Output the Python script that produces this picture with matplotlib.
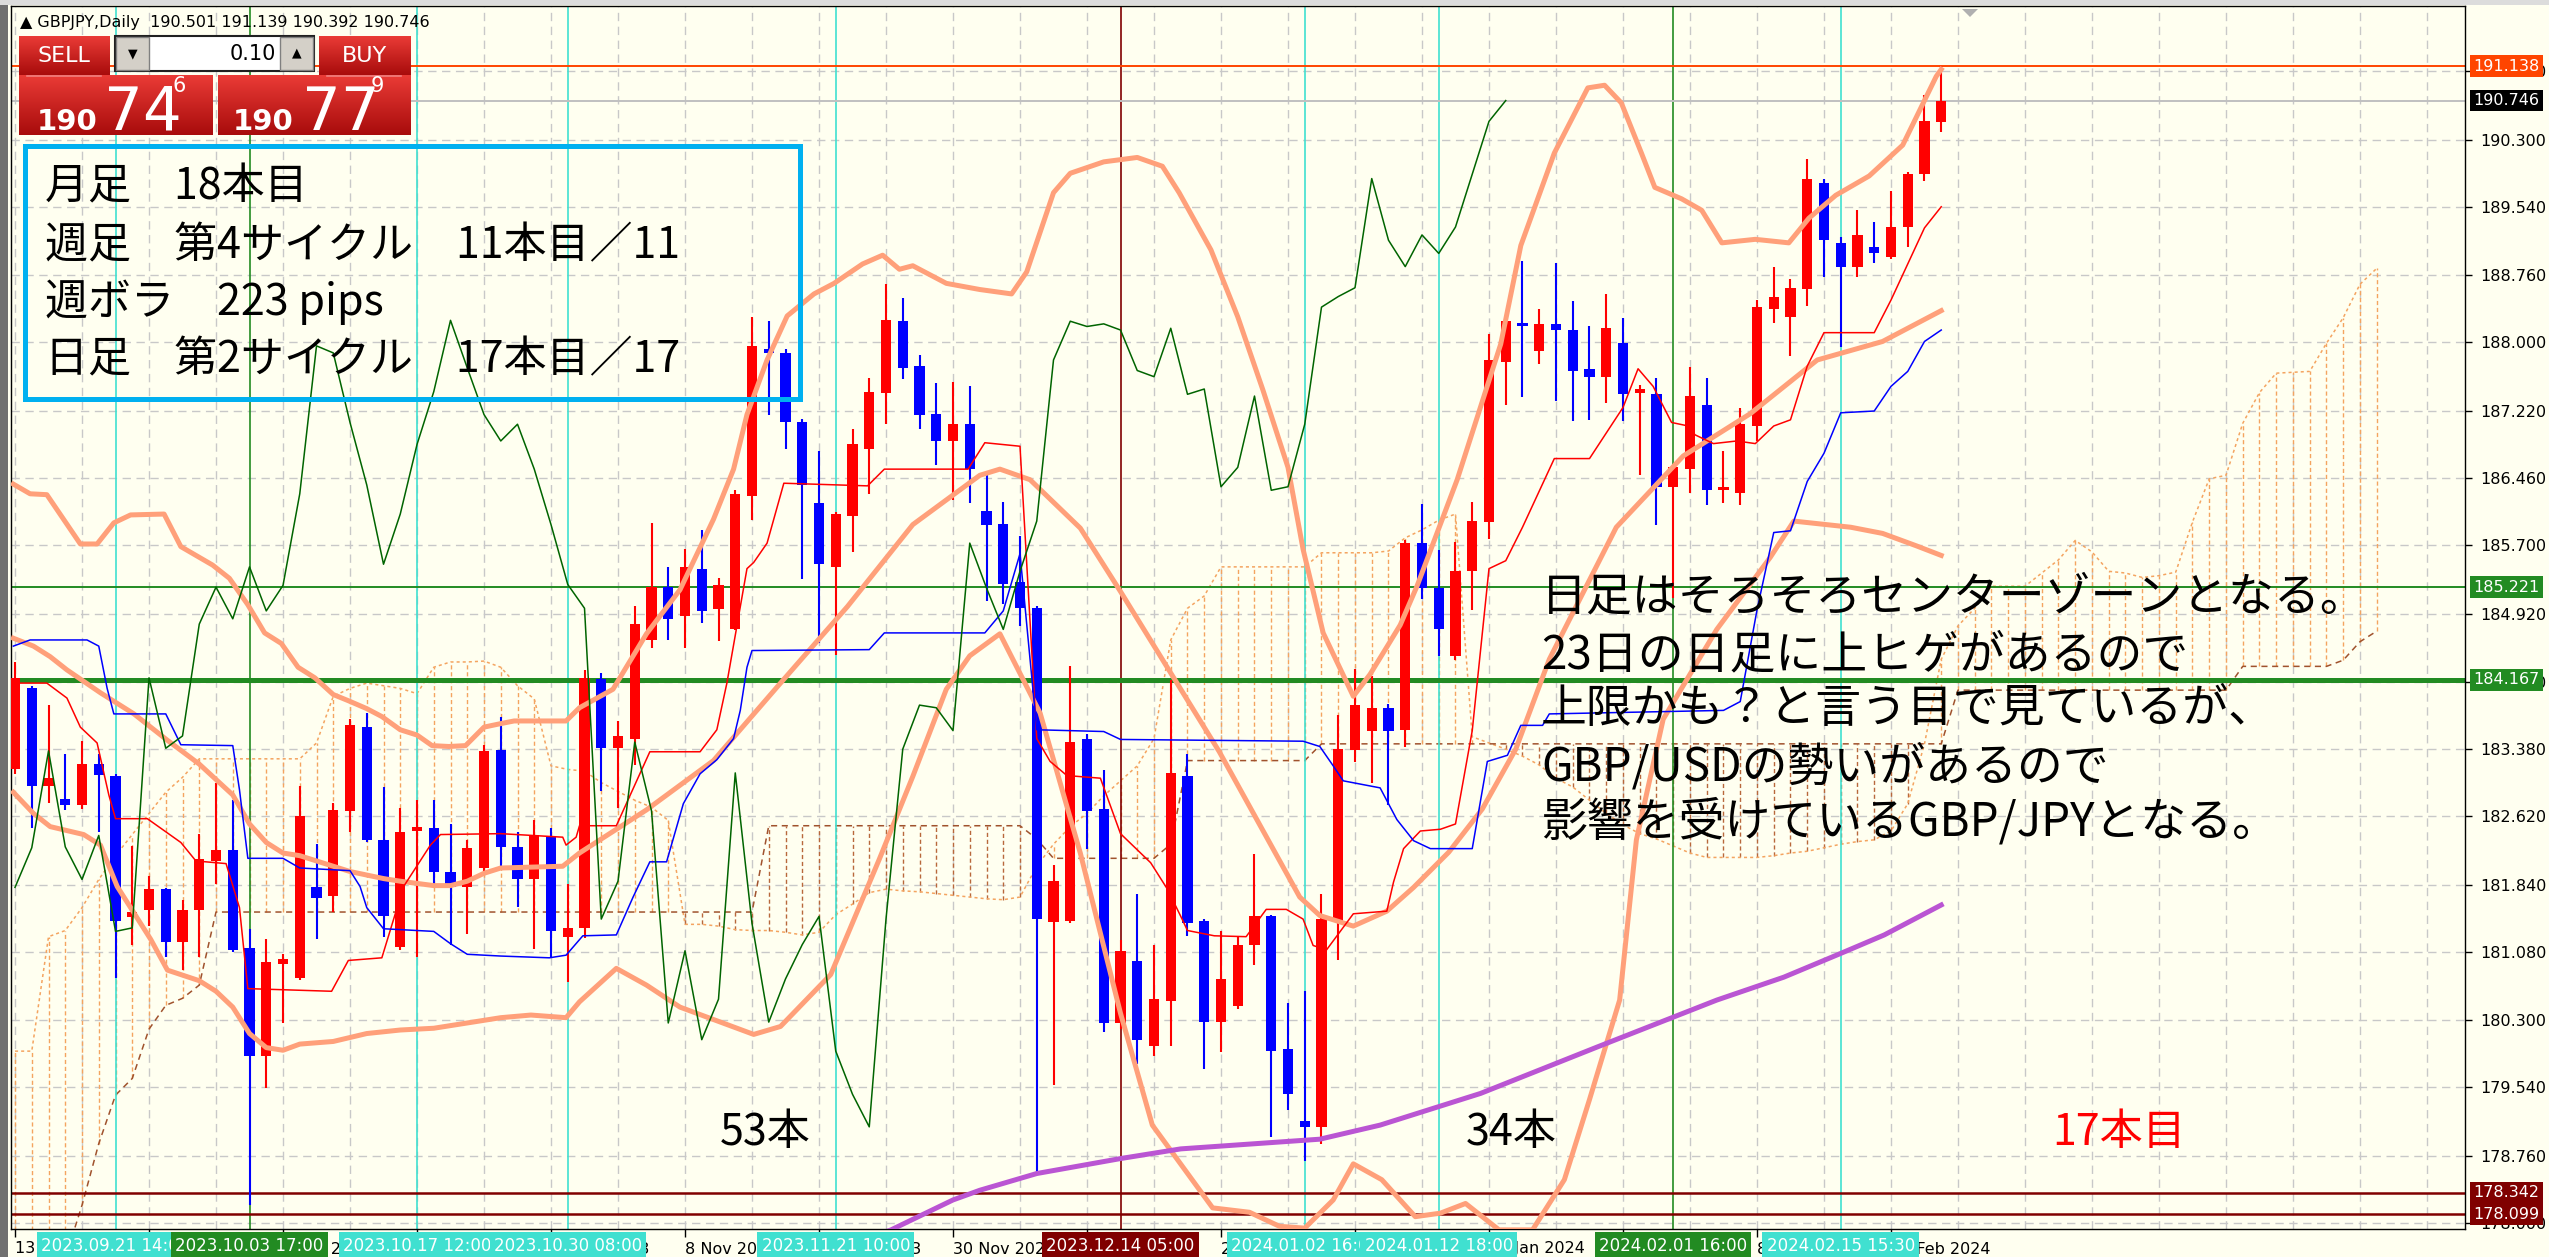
import numpy as np
import matplotlib.pyplot as plt
import matplotlib.transforms as mtrans
from matplotlib.colors import LinearSegmentedColormap
from matplotlib.patches import Rectangle, Polygon

plt.rcParams['font.family'] = ['Noto Sans CJK JP', 'DejaVu Sans']

W, H = 2549, 1257
BG = '#FFFFF0'
MT = ['DejaVu Sans']
NARROW = ['Liberation Sans Narrow', 'DejaVu Sans']
JP = ['Noto Sans CJK JP', 'DejaVu Sans']

# GBPJPY daily candles, bar 0 = 13 Sep 2023 ... bar 115 = 23 Feb 2024
opens = [183.15, 184.07, 182.96, 182.81, 182.74, 183.21, 183.08, 181.47, 181.55, 181.79,
         181.19, 181.55, 182.11, 182.23, 181.12, 179.89, 180.94, 180.78, 181.81, 181.71,
         182.68, 183.63, 182.35, 181.13, 182.45, 182.48, 181.99, 181.81, 182.03, 183.37,
         182.27, 181.90, 182.38, 181.25, 181.35, 184.18, 183.39, 183.50, 184.62, 185.22,
         184.89, 185.43, 184.97, 184.75, 186.26, 187.93, 187.88, 187.09, 186.18, 185.45,
         186.03, 186.79, 187.43, 188.24, 187.73, 187.19, 186.88, 187.07, 186.09, 185.94,
         185.28, 184.98, 181.42, 181.43, 183.49, 182.70, 180.27, 180.97, 180.01, 180.52,
         183.08, 181.43, 180.28, 180.46, 181.15, 181.48, 179.97, 179.16, 179.09, 181.42,
         183.37, 183.59, 183.85, 183.60, 185.72, 185.21, 184.44, 185.40, 185.96, 187.78,
         188.22, 187.90, 188.21, 188.14, 187.70, 187.61, 187.99, 187.43, 187.41, 186.36,
         186.56, 187.29, 186.32, 186.29, 187.05, 188.38, 188.29, 188.61, 189.81, 189.13,
         188.86, 189.08, 188.97, 189.31, 189.91, 190.501]
highs = [184.37, 184.10, 183.88, 183.33, 183.47, 183.33, 183.10, 182.28, 181.94, 181.80,
         181.67, 182.42, 183.00, 182.80, 181.34, 181.22, 181.05, 182.96, 182.30, 182.77,
         183.72, 183.79, 182.95, 182.71, 182.80, 182.80, 182.53, 182.35, 183.43, 183.75,
         182.44, 182.58, 182.48, 181.85, 184.28, 184.25, 183.70, 185.01, 185.95, 185.45,
         185.65, 185.87, 185.32, 186.32, 188.29, 188.24, 187.93, 187.13, 186.77, 186.07,
         187.02, 187.60, 188.66, 188.50, 187.86, 187.54, 187.55, 187.50, 186.49, 186.19,
         185.80, 185.00, 182.06, 184.32, 183.55, 183.14, 181.21, 181.73, 181.16, 184.17,
         183.33, 181.45, 181.32, 181.26, 182.19, 181.50, 180.50, 180.63, 181.73, 183.77,
         184.29, 184.21, 183.89, 185.75, 186.16, 185.64, 185.73, 186.19, 188.10, 188.26,
         188.92, 188.38, 188.90, 188.47, 188.18, 188.55, 188.28, 187.52, 187.60, 186.60,
         187.72, 187.60, 186.77, 187.26, 188.48, 188.86, 188.72, 190.08, 189.86, 189.20,
         189.50, 189.37, 189.72, 189.93, 190.81, 191.139]
lows = [183.10, 182.48, 182.77, 182.69, 182.70, 182.44, 180.78, 181.16, 181.37, 181.02,
        180.87, 181.02, 181.85, 181.08, 178.20, 179.53, 180.27, 180.76, 181.22, 181.53,
        182.44, 182.32, 181.25, 181.10, 181.02, 181.82, 181.16, 181.28, 182.00, 182.04,
        181.59, 181.11, 181.01, 180.73, 181.23, 182.91, 182.71, 183.20, 184.53, 184.62,
        184.53, 184.81, 184.61, 184.73, 185.98, 187.18, 186.79, 185.31, 184.59, 184.45,
        185.62, 186.28, 187.07, 187.58, 187.02, 186.61, 186.21, 186.17, 185.06, 185.03,
        184.78, 178.56, 179.56, 181.40, 182.25, 180.17, 180.20, 179.80, 179.89, 180.01,
        181.26, 179.75, 179.94, 180.43, 180.93, 178.98, 179.28, 178.70, 178.90, 180.99,
        183.23, 183.00, 182.75, 183.40, 185.09, 184.44, 184.39, 184.96, 185.77, 187.29,
        187.38, 187.75, 187.33, 187.11, 187.12, 187.31, 187.11, 186.49, 185.93, 185.10,
        186.29, 186.15, 186.17, 186.15, 186.88, 188.22, 187.84, 188.41, 188.74, 187.95,
        188.74, 188.90, 188.95, 189.08, 189.83, 190.392]
closes = [184.19, 182.96, 183.05, 182.75, 183.21, 183.09, 181.43, 181.53, 181.79, 181.19,
          181.55, 182.13, 182.23, 181.10, 179.89, 180.96, 181.00, 182.62, 181.69, 182.69,
          183.65, 182.35, 181.49, 182.44, 182.50, 181.99, 181.81, 182.26, 183.36, 182.27,
          181.90, 182.40, 181.31, 181.35, 184.19, 183.39, 183.53, 184.80, 185.22, 184.86,
          185.45, 184.95, 185.24, 186.28, 187.96, 187.88, 187.09, 186.38, 185.48, 186.05,
          186.84, 187.44, 188.25, 187.71, 187.18, 186.88, 187.07, 186.56, 185.93, 185.25,
          184.98, 181.45, 181.88, 183.46, 182.68, 180.27, 181.09, 180.08, 180.54, 183.11,
          181.40, 180.28, 180.77, 181.16, 181.48, 179.95, 179.46, 179.09, 181.45, 183.38,
          183.88, 183.85, 183.59, 185.72, 185.21, 184.74, 185.40, 185.97, 187.80, 188.24,
          188.18, 188.21, 188.14, 187.68, 187.61, 188.16, 187.41, 187.47, 186.36, 186.58,
          187.39, 186.32, 186.36, 187.07, 188.40, 188.52, 188.62, 189.86, 189.16, 188.86,
          189.22, 189.01, 189.31, 189.91, 190.51, 190.746]

# Bollinger bands (vertices, x = bar index)
bb_up_x = [-0.1, 0.9, 1.9, 3.9, 4.9, 5.9, 6.9, 8.9, 9.9, 11.8, 12.8, 13.9, 14.9, 15.9, 16.9,
           17.9, 19.0, 19.9, 21.0, 21.9, 23.0, 24.0, 24.9, 25.9, 26.9, 28.0, 29.0, 29.8, 32.9,
           33.7, 35.7, 37.7, 39.7, 41.7, 42.9, 43.7, 44.9, 46.1, 47.7, 48.9, 50.6, 51.8, 52.8,
           53.6, 55.6, 57.6, 59.5, 60.4, 61.2, 62.0, 63.0, 65.0, 67.0, 68.5, 69.5, 71.4, 73.0,
           74.5, 76.0, 76.9, 78.1, 79.9, 80.9, 81.9, 82.7, 83.7, 86.1, 88.7, 89.9, 91.9, 93.9,
           94.9, 95.9, 97.1, 97.9, 99.5, 100.7, 101.9, 103.9, 105.9, 107.1, 108.7, 110.7,
           112.7, 114.7, 115.0]
bb_up_y = [186.39, 186.28, 186.27, 185.71, 185.71, 185.95, 186.04, 186.05, 185.68, 185.47,
           185.32, 185.02, 184.70, 184.58, 184.31, 184.19, 184.00, 183.93, 183.84, 183.75,
           183.60, 183.54, 183.42, 183.41, 183.42, 183.63, 183.67, 183.70, 183.70, 183.85,
           184.06, 184.69, 185.19, 185.99, 186.56, 187.18, 187.80, 188.30, 188.55, 188.67,
           188.89, 188.99, 188.83, 188.87, 188.67, 188.60, 188.55, 188.80, 189.25, 189.70,
           189.92, 190.05, 190.10, 190.00, 189.70, 189.05, 188.29, 187.46, 186.58, 185.65,
           184.70, 183.98, 184.23, 184.54, 184.79, 185.23, 186.44, 187.98, 189.10, 190.15,
           190.89, 190.92, 190.72, 190.15, 189.76, 189.63, 189.50, 189.13, 189.17, 189.13,
           189.41, 189.67, 189.89, 190.24, 191.02, 191.10]
bb_mid_x = [-0.1, 1.1, 2.1, 3.1, 5.1, 7.1, 9.1, 11.0, 13.0, 14.0, 15.0, 16.0, 17.0, 18.0,
            20.0, 22.0, 23.0, 25.0, 26.0, 27.0, 28.0, 29.0, 32.7, 33.7, 37.7, 41.7, 45.7, 49.7,
            53.6, 57.6, 58.8, 60.6, 63.6, 66.0, 71.9, 76.7, 77.9, 79.9, 81.9, 83.5, 85.6, 87.6,
            89.6, 91.6, 95.6, 99.6, 103.6, 107.6, 111.5, 115.0]
bb_mid_y = [184.64, 184.55, 184.43, 184.28, 184.02, 183.78, 183.48, 183.21, 182.86, 182.53,
            182.32, 182.20, 182.17, 182.11, 181.99, 181.91, 181.88, 181.83, 181.83, 181.88,
            181.97, 182.03, 182.05, 182.20, 182.69, 183.25, 184.13, 185.00, 185.93, 186.49,
            186.56, 186.44, 185.89, 185.17, 183.35, 181.70, 181.49, 181.37, 181.54, 181.81,
            182.21, 182.70, 183.38, 184.40, 185.90, 186.71, 187.19, 187.80, 188.01, 188.36]
bb_lo_x = [-0.1, 1.1, 2.1, 4.1, 5.1, 6.1, 7.1, 8.1, 9.1, 11.0, 12.0, 13.0, 14.0, 15.0, 16.0,
           17.0, 19.0, 21.0, 23.0, 25.0, 27.0, 29.0, 30.8, 32.9, 33.7, 35.9, 37.7, 39.7, 44.1,
           45.7, 48.7, 51.6, 53.6, 55.6, 57.0, 58.8, 61.2, 63.6, 66.0, 67.9, 71.5, 73.7, 75.5,
           77.0, 78.7, 79.9, 81.6, 83.6, 85.1, 86.6, 88.6, 90.6, 92.5, 94.0, 95.8, 96.8, 98.4,
           101.6, 104.8, 106.2, 109.6, 111.5, 113.5, 115.0]
bb_lo_y = [182.89, 182.65, 182.50, 182.41, 182.29, 181.82, 181.52, 181.22, 180.87, 180.75,
           180.63, 180.45, 180.15, 179.99, 179.96, 180.03, 180.06, 180.15, 180.19, 180.21,
           180.27, 180.33, 180.36, 180.33, 180.51, 180.89, 180.70, 180.45, 180.14, 180.23,
           180.82, 182.13, 183.07, 184.06, 184.44, 184.69, 183.79, 182.20, 180.38, 179.11,
           178.17, 178.12, 177.96, 177.94, 178.26, 178.67, 178.49, 178.07, 178.11, 178.22,
           177.92, 177.92, 178.49, 179.40, 180.53, 182.35, 183.72, 184.74, 185.56, 185.97,
           185.90, 185.83, 185.69, 185.58]

# Ichimoku tenkan / kijun vertices
tenkan_x = [-0.1, 1.9, 3.1, 3.9, 4.9, 5.6, 6.0, 7.9, 9.9, 10.8, 12.6, 13.4, 13.9, 18.9, 19.9,
            21.9, 23.2, 24.8, 25.4, 29.0, 32.7, 32.9, 33.5, 33.7, 35.9, 37.9, 40.9, 41.9, 42.5,
            43.7, 44.1, 44.9, 45.9, 50.9, 51.9, 56.9, 57.9, 60.0, 61.0, 61.8, 62.8, 64.8, 66.0,
            67.8, 68.8, 69.6, 70.0, 71.6, 73.5, 74.7, 75.9, 76.9, 77.5, 78.3, 79.9, 81.9, 82.3,
            82.9, 83.9, 85.1, 86.0, 87.0, 88.0, 89.0, 90.0, 91.9, 94.0, 96.0, 96.9, 97.8, 98.9,
            99.9, 100.3, 101.4, 102.8, 103.9, 105.0, 106.0, 107.0, 108.0, 111.0, 112.0, 114.0,
            115.0]
tenkan_y = [184.13, 184.13, 183.96, 183.63, 183.45, 182.86, 182.59, 182.59, 182.32, 182.11,
            182.08, 181.58, 180.66, 180.63, 180.98, 181.01, 181.82, 182.29, 182.41, 182.42,
            182.38, 182.29, 182.38, 182.51, 182.51, 183.35, 183.35, 183.60, 184.13, 185.43,
            185.50, 185.72, 186.40, 186.37, 186.56, 186.56, 186.86, 186.82, 183.50, 183.24,
            183.08, 183.05, 182.42, 182.09, 181.79, 181.48, 181.32, 181.26, 181.25, 181.56,
            181.56, 181.45, 181.15, 181.10, 181.51, 181.54, 181.87, 182.25, 182.45, 182.47,
            182.53, 183.59, 185.43, 185.52, 185.90, 186.68, 186.68, 187.26, 187.70, 187.50,
            187.09, 187.05, 186.95, 186.85, 186.88, 186.85, 187.05, 187.12, 187.73, 188.11,
            188.11, 188.48, 189.30, 189.54]
kijun_x = [-0.1, 0.9, 4.3, 5.0, 5.5, 5.9, 9.0, 9.9, 13.0, 13.4, 13.9, 16.0, 17.0, 20.0, 20.6,
           21.0, 22.0, 25.0, 26.0, 27.0, 29.0, 31.9, 32.9, 33.9, 35.9, 36.9, 37.9, 38.9, 39.9,
           40.9, 41.9, 42.9, 43.3, 43.7, 44.0, 51.0, 51.9, 57.9, 59.0, 60.0, 61.0, 65.0, 66.0,
           76.9, 77.9, 78.7, 79.3, 81.5, 82.5, 83.5, 84.5, 87.0, 87.9, 89.1, 89.9, 91.2, 91.6,
           102.0, 103.0, 104.0, 105.0, 106.0, 107.0, 108.0, 109.0, 111.0, 112.0, 113.0, 114.0,
           115.0]
kijun_y = [184.55, 184.62, 184.62, 184.55, 184.07, 183.78, 183.78, 183.43, 183.42, 182.92,
           182.14, 182.14, 182.03, 182.00, 181.82, 181.58, 181.34, 181.31, 181.17, 181.05,
           181.03, 181.01, 181.04, 181.26, 181.27, 181.70, 182.10, 182.10, 182.76, 183.10,
           183.26, 183.50, 183.82, 184.31, 184.50, 184.51, 184.70, 184.70, 184.95, 185.60,
           183.60, 183.58, 183.49, 183.47, 183.41, 183.19, 183.02, 182.94, 182.58, 182.34,
           182.25, 182.25, 183.24, 183.31, 183.65, 183.65, 183.78, 183.82, 183.92, 184.96,
           185.84, 185.86, 186.42, 186.74, 187.20, 187.22, 187.50, 187.67, 188.01, 188.14]

# Senkou span A / B per bar (bar 0 .. 141, cloud runs 26 bars ahead)
senkou_a = [179.95, 179.95, 181.25, 181.32, 181.58, 181.90, 182.17, 182.41, 182.65, 182.89,
            183.06, 183.27, 183.27, 183.27, 183.27, 183.27, 183.27, 183.27, 183.45, 183.98,
            184.07, 184.13, 184.10, 184.07, 184.01, 184.31, 184.37, 184.37, 184.38, 184.31,
            184.10, 183.95, 183.19, 183.15, 183.13, 183.00, 182.90, 182.80, 182.72, 182.57,
            181.39, 181.39, 181.37, 181.33, 181.32, 181.32, 181.30, 181.27, 181.30, 181.50,
            181.62, 181.75, 181.79, 181.77, 181.76, 181.74, 181.72, 181.70, 181.68, 181.67,
            181.70, 182.05, 182.30, 182.50, 182.65, 182.85, 183.02, 183.19, 183.50, 184.62,
            184.98, 185.12, 185.45, 185.45, 185.45, 185.45, 185.45, 185.45, 185.61, 185.61,
            185.61, 185.61, 185.63, 185.78, 185.87, 185.98, 186.05, 183.52, 183.45, 183.38,
            183.30, 183.20, 183.05, 182.95, 182.80, 182.65, 182.52, 182.42, 182.36, 182.28,
            182.20, 182.15, 182.15, 182.15, 182.15, 182.17, 182.20, 182.22, 182.26, 182.30,
            182.33, 182.35, 182.45, 182.76, 183.44, 184.40, 184.78, 184.98, 185.23, 185.23,
            185.23, 185.38, 185.53, 185.75, 185.62, 185.40, 185.38, 185.33, 185.35, 185.39,
            185.96, 186.45, 186.49, 187.08, 187.43, 187.65, 187.66, 187.67, 187.99, 188.28,
            188.66, 188.84]
senkou_b = [176.60, 177.00, 177.30, 177.60, 178.20, 178.90, 179.45, 179.64, 180.20, 180.47,
            180.55, 180.70, 181.53, 181.53, 181.53, 181.53, 181.53, 181.53, 181.53, 181.53,
            181.53, 181.53, 181.53, 181.53, 181.53, 181.53, 181.53, 181.53, 181.53, 181.53,
            181.53, 181.53, 181.53, 181.53, 181.53, 181.53, 181.53, 181.53, 181.53, 181.53,
            181.53, 181.53, 181.53, 181.53, 181.53, 182.51, 182.51, 182.51, 182.51, 182.51,
            182.51, 182.51, 182.51, 182.51, 182.51, 182.51, 182.51, 182.51, 182.51, 182.51,
            182.51, 182.36, 182.14, 182.14, 182.14, 182.14, 182.14, 182.14, 182.14, 182.30,
            183.25, 183.25, 183.25, 183.25, 183.25, 183.25, 183.25, 183.25, 183.44, 183.44,
            183.44, 183.44, 183.44, 183.44, 183.44, 183.44, 183.44, 183.44, 183.44, 183.44,
            183.44, 183.44, 183.44, 183.44, 183.44, 183.44, 183.44, 183.44, 183.44, 183.44,
            183.44, 183.44, 183.44, 183.44, 183.44, 183.44, 183.44, 183.44, 183.44, 183.44,
            183.44, 183.44, 183.44, 183.44, 183.44, 183.44, 184.05, 184.05, 184.05, 184.05,
            184.05, 184.05, 184.05, 184.05, 184.05, 184.05, 184.05, 184.05, 184.05, 184.05,
            184.05, 184.05, 184.05, 184.32, 184.32, 184.32, 184.32, 184.32, 184.32, 184.39,
            184.60, 184.72]

# long moving average (purple)
ma_x = [50.0, 52.3, 56.0, 57.6, 61.0, 66.0, 69.6, 77.9, 81.5, 87.5, 94.5, 101.6, 105.6,
        109.0, 111.6, 115.0]
ma_y = [177.75, 177.92, 178.26, 178.37, 178.56, 178.73, 178.84, 178.95, 179.11, 179.47,
        180.00, 180.53, 180.79, 181.06, 181.27, 181.61]

price_ticks = [191.080, 190.300, 189.540, 188.760, 188.000, 187.220, 186.460, 185.700,
               184.920, 184.140, 183.380, 182.620, 181.840, 181.080, 180.300, 179.540,
               178.760, 178.000]
time_idx = [0, 8, 16, 24, 32, 40, 48, 56, 64, 72, 80, 88, 96, 104, 112]
time_labels = ['13 Sep 2023', '25 Sep 2023', '5 Oct 2023', '17 Oct 2023', '27 Oct 2023',
               '8 Nov 2023', '20 Nov 2023', '30 Nov 2023', '12 Dec 2023', '22 Dec 2023',
               '5 Jan 2024', '17 Jan 2024', '29 Jan 2024', '8 Feb 2024', '20 Feb 2024']

CYAN, GREEN, MAROON = '#40E0D0', '#228B22', '#800000'
vline_idx = [6, 14, 24, 33, 49, 66, 77, 85, 99, 109]
vline_text = ['2023.09.21 14:00', '2023.10.03 17:00', '2023.10.17 12:00', '2023.10.30 08:00',
              '2023.11.21 10:00', '2023.12.14 05:00', '2024.01.02 16:00', '2024.01.12 18:00',
              '2024.02.01 16:00', '2024.02.15 15:30']
vline_color = [CYAN, GREEN, CYAN, CYAN, CYAN, MAROON, CYAN, CYAN, GREEN, CYAN]

hline_price = [191.138, 190.746, 185.221, 184.167, 178.342, 178.099]
hline_color = ['#FF4500', '#C0C0C0', GREEN, GREEN, MAROON, MAROON]
hline_box = ['#FF4500', '#000000', GREEN, GREEN, MAROON, MAROON]
hline_width = [1.4, 1.4, 1.4, 3.6, 1.8, 1.8]

info_lines = ['月足　18本目', '週足　第4サイクル　11本目／11', '週ボラ　223 pips',
              '日足　第2サイクル　17本目／17']
note_lines = ['日足はそろそろセンターゾーンとなる。', '23日の日足に上ヒゲがあるので',
              '上限かも？と言う目で見ているが、', 'GBP/USDの勢いがあるので',
              '影響を受けているGBP/JPYとなる。']

# ---------------------------------------------------------------- chart
fig = plt.figure(figsize=(W / 100, H / 100), dpi=100, facecolor=BG)
ax = fig.add_axes([11 / W, 1 - 1229 / H, 2454 / W, 1223 / H], facecolor=BG)

dash = (0, (6, 4))
for p in price_ticks:
    ax.axhline(p, color='#C8C8C8', lw=1.0, ls=dash, zorder=0.5)
for gx in range(0, 146, 4):
    ax.axvline(gx, color='#C8C8C8', lw=1.0, ls=dash, zorder=0.5)

# kumo
sa = np.array(senkou_a)
sb = np.array(senkou_b)
cx = np.arange(len(sa))
up = sa >= sb
ax.vlines(cx[up], sb[up], sa[up], colors='#F4A460', lw=1.0, linestyles=(0, (3, 2)), zorder=1)
ax.vlines(cx[~up], sa[~up], sb[~up], colors='#B8683C', lw=1.0, linestyles=(0, (3, 2)), zorder=1)
ax.plot(cx, sa, color='#F4A460', lw=1.1, ls=(0, (2, 2)), zorder=1.2)
ax.plot(cx, sb, color='#A0522D', lw=1.1, ls=(0, (4, 3)), zorder=1.2)

# objects
for x, col in zip(vline_idx, vline_color):
    ax.axvline(x, color=col, lw=1.2, zorder=1.5)
for p, col, w in zip(hline_price, hline_color, hline_width):
    ax.axhline(p, color=col, lw=w, zorder=1.5)

# candles
o = np.array(opens)
hi = np.array(highs)
lo = np.array(lows)
c = np.array(closes)
xs = np.arange(len(o))
ccol = np.where(c >= o, '#FF0000', '#0000FF')
ax.vlines(xs, lo, hi, colors=ccol, lw=1.5, zorder=3)
ax.bar(xs, np.maximum(np.abs(c - o), 0.025), bottom=np.minimum(o, c), width=0.6,
       color=ccol, edgecolor='none', zorder=3.1)

# indicators
for bx, by in ((bb_up_x, bb_up_y), (bb_mid_x, bb_mid_y), (bb_lo_x, bb_lo_y)):
    ax.plot(bx, by, color='#FFA07A', lw=3.6, solid_joinstyle='round', zorder=4)
ax.plot(ma_x, ma_y, color='#BA55D3', lw=3.6, zorder=4)
ax.plot(tenkan_x, tenkan_y, color='#FF0000', lw=1.1, zorder=4.2)
ax.plot(kijun_x, kijun_y, color='#0000FF', lw=1.1, zorder=4.2)
ax.plot(xs[:len(c) - 26], c[26:], color='#006400', lw=1.1, zorder=4.2)

ax.set_xlim(-0.24, 146.27)
ax.set_ylim(177.93, 191.82)
for s in ax.spines.values():
    s.set_color('black')
    s.set_linewidth(1.0)

ax.yaxis.tick_right()
ax.set_yticks(price_ticks)
ax.set_yticklabels([f'{p:.3f}' for p in price_ticks], family=MT, fontsize=11.5)
ax.tick_params(axis='y', direction='out', length=5, width=1, pad=6, colors='black')
ax.set_xticks(time_idx)
ax.set_xticklabels(time_labels, ha='left', family=MT, fontsize=11.5)
ax.tick_params(axis='x', direction='out', length=6, width=1, pad=3, colors='black')

ytr = mtrans.blended_transform_factory(ax.transAxes, ax.transData)
for p, fc in zip(hline_price, hline_box):
    ax.text(1.0035, p, f'{p:.3f}', transform=ytr, ha='left', va='center', color='white',
            fontsize=11.5, family=MT, clip_on=False, zorder=10,
            bbox=dict(boxstyle='square,pad=0.2', fc=fc, ec='none'))
xtr = mtrans.blended_transform_factory(ax.transData, ax.transAxes)
for x, t, fc in zip(vline_idx, vline_text, vline_color):
    ax.text(x, -0.0135, t, transform=xtr, ha='center', va='center', color='white',
            fontsize=12, family=MT, clip_on=False, zorder=10,
            bbox=dict(boxstyle='square,pad=0.25', fc=fc, ec='none'))

# ---------------------------------------------------------------- overlay (pixels)
ov = fig.add_axes([0, 0, 1, 1])
ov.axis('off')

ov.add_patch(Rectangle((0, 0), 8, H, fc='#707070', ec='none'))
ov.add_patch(Rectangle((0, 0), W, 5, fc='#DCDCDC', ec='none'))
ov.add_patch(Polygon([[1962, 9], [1978, 9], [1970, 17]], closed=True, fc='#B0B0B0', ec='none'))

ov.text(20, 23, '▲ GBPJPY,Daily  190.501 191.139 190.392 190.746', fontsize=11.5,
        family=MT, va='center', color='black')

red_cm = LinearSegmentedColormap.from_list('btn', ['#EA3B36', '#A80C0C'])
grad = np.linspace(0, 1, 64).reshape(-1, 1)


def red_box(x0, y0, x1, y1):
    ov.imshow(grad, extent=(x0, x1, y1, y0), cmap=red_cm, aspect='auto',
              interpolation='bilinear', zorder=6)


red_box(19, 36, 110, 75)
red_box(19, 75, 213, 135)
red_box(218, 75, 411, 135)
red_box(319, 36, 411, 75)
ov.plot([27, 101], [76, 76], color='#F08080', lw=1.2, zorder=7)
ov.plot([327, 401], [76, 76], color='#F08080', lw=1.2, zorder=7)
ov.add_patch(Rectangle((115, 36), 199, 35, fc='white', ec='#202020', lw=1.5, zorder=6))
ov.add_patch(Rectangle((116, 37), 33, 33, fc='#D4D0C8', ec='#808080', lw=1, zorder=7))
ov.add_patch(Rectangle((280, 37), 33, 33, fc='#D4D0C8', ec='#808080', lw=1, zorder=7))
ov.text(132.5, 54, '▼', fontsize=9, ha='center', va='center', family=MT, zorder=8)
ov.text(296.5, 53, '▲', fontsize=9, ha='center', va='center', family=MT, zorder=8)
ov.text(276, 54, '0.10', fontsize=15, ha='right', va='center', family=MT, zorder=8)
ov.text(64, 56, 'SELL', fontsize=16, ha='center', va='center', color='white', family=MT, zorder=8)
ov.text(364, 56, 'BUY', fontsize=16, ha='center', va='center', color='white', family=MT, zorder=8)
for x_small, x_big, x_sup, big, sup in ((97, 104, 172, '74', '6'), (293, 302, 371, '77', '9')):
    ov.text(x_small, 130, '190', fontsize=21, ha='right', va='baseline', color='white',
            family=NARROW, weight='bold', zorder=8)
    ov.text(x_big, 130, big, fontsize=44, ha='left', va='baseline', color='white',
            family=NARROW, zorder=8)
    ov.text(x_sup, 92, sup, fontsize=15, ha='left', va='baseline', color='white',
            family=NARROW, zorder=8)

# text boxes
ov.add_patch(Rectangle((24.5, 146), 775.5, 253, fill=False, ec='#00B0F0', lw=3.6, zorder=6))
for yy, t in zip([187, 246, 302, 360], info_lines):
    ov.text(45, yy, t, fontsize=31, family=JP, va='center', ha='left', zorder=7)
for yy, t in zip([597, 655, 709, 767, 822], note_lines):
    ov.text(1541, yy, t, fontsize=33, family=JP, va='center', ha='left', zorder=7)
ov.text(720, 1133, '53本', fontsize=31, family=JP, va='center', ha='left', zorder=7)
ov.text(1466, 1133, '34本', fontsize=31, family=JP, va='center', ha='left', zorder=7)
ov.text(2052, 1133, '17本目', fontsize=31, family=JP, va='center', ha='left', color='#FF0000',
        zorder=7)

ov.set_xlim(0, W)
ov.set_ylim(H, 0)

fig.savefig('out.png', dpi=100, facecolor=BG)
